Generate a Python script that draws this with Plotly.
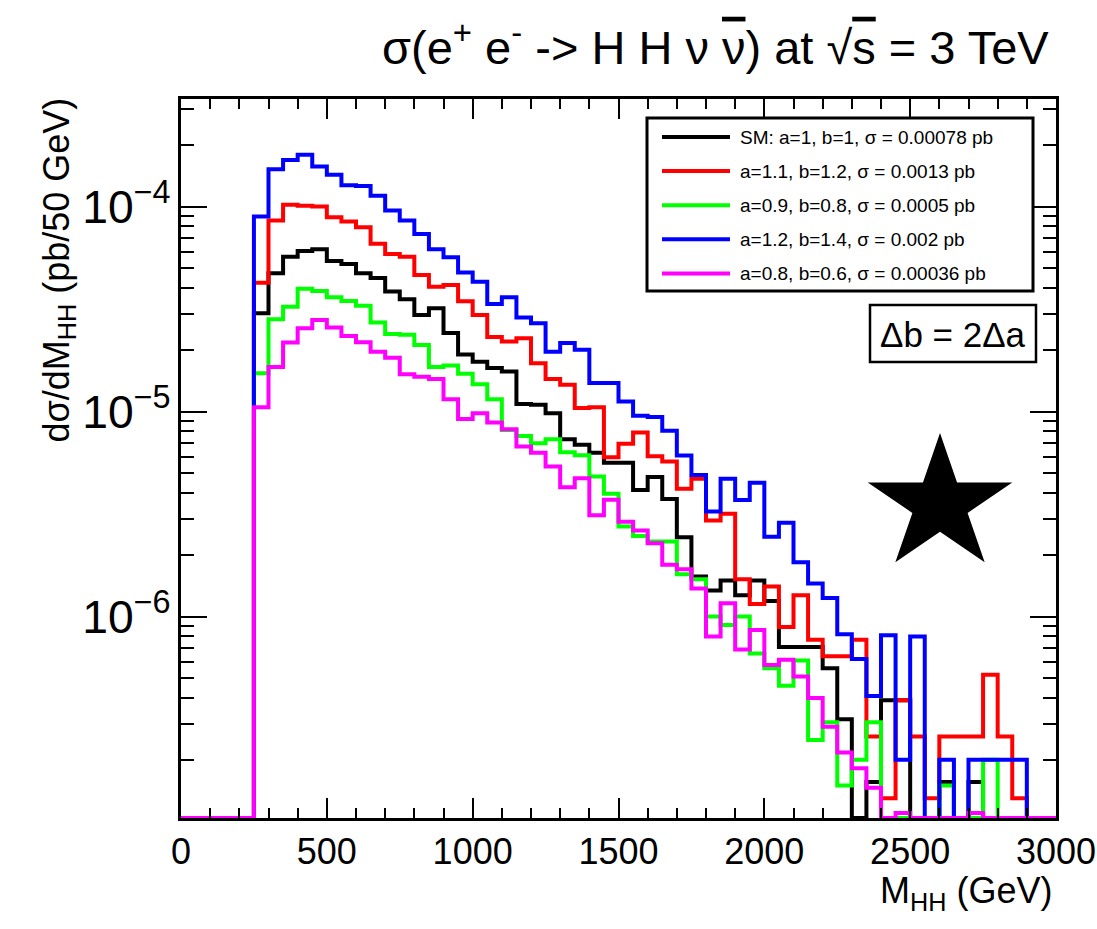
import math
import numpy as np
import plotly.graph_objects as go

# Di-Higgs invariant mass spectra, 50 GeV bins from 0 to 3000 GeV
bin_edges = list(range(0, 3001, 50))

series_names = [
    "SM: a=1, b=1, σ = 0.00078 pb",
    "a=1.1, b=1.2, σ = 0.0013 pb",
    "a=0.9, b=0.8, σ = 0.0005 pb",
    "a=1.2, b=1.4, σ = 0.002 pb",
    "a=0.8, b=0.6, σ = 0.00036 pb",
]
series_colors = ["#000000", "#ff0000", "#00ff00", "#0000ff", "#ff00ff"]

# dsigma/dM_HH in pb per bin (bins below 250 GeV are empty)
sm_a1_b1 = [
    0, 0, 0, 0, 0,
    3.02e-5, 4.73e-5, 5.70e-5, 6.08e-5, 6.20e-5, 5.43e-5, 5.25e-5, 4.73e-5, 4.48e-5, 3.85e-5,
    3.53e-5, 2.96e-5, 3.19e-5, 2.42e-5, 1.90e-5, 1.75e-5, 1.63e-5, 1.57e-5, 1.09e-5, 1.08e-5,
    9.8e-6, 7.33e-6, 6.88e-6, 6.3e-6, 5.62e-6, 5.62e-6, 4.14e-6, 4.8e-6, 3.75e-6, 2.44e-6,
    1.57e-6, 1.34e-6, 1.50e-6, 1.27e-6, 1.50e-6, 1.19e-6, 7.1e-7, 7.1e-7, 7.1e-7, 5.6e-7,
    3.15e-7, 0, 1.56e-7, 3.9e-7, 3.9e-7, 0, 0, 1.56e-7, 0, 1.56e-7,
    0, 0, 0, 0, 0,
]
a11_b12 = [
    0, 0, 0, 0, 0,
    4.25e-5, 8.55e-5, 1.02e-4, 1.01e-4, 1.00e-4, 8.88e-5, 8.45e-5, 7.94e-5, 6.58e-5, 5.88e-5,
    5.70e-5, 4.64e-5, 4.07e-5, 4.15e-5, 3.45e-5, 2.96e-5, 2.31e-5, 2.20e-5, 2.28e-5, 1.72e-5,
    1.44e-5, 1.35e-5, 1.04e-5, 1.05e-5, 5.98e-6, 6.96e-6, 7.9e-6, 6.05e-6, 5.7e-6, 4.2e-6,
    4.7e-6, 2.94e-6, 3.17e-6, 1.52e-6, 1.15e-6, 1.40e-6, 8.9e-7, 1.27e-6, 7.7e-7, 6.4e-7,
    6.4e-7, 7.7e-7, 2.6e-7, 1.3e-7, 3.9e-7, 2.6e-7, 1.3e-7, 2.6e-7, 2.6e-7, 2.6e-7,
    5.2e-7, 2.6e-7, 1.3e-7, 0, 0,
]
a09_b08 = [
    0, 0, 0, 0, 0,
    1.54e-5, 2.82e-5, 3.25e-5, 3.97e-5, 3.88e-5, 3.61e-5, 3.46e-5, 3.28e-5, 2.72e-5, 2.39e-5,
    2.37e-5, 2.11e-5, 1.65e-5, 1.68e-5, 1.53e-5, 1.36e-5, 1.15e-5, 8.14e-6, 7.61e-6, 7.0e-6,
    7.33e-6, 6.33e-6, 6.13e-6, 4.82e-6, 3.97e-6, 2.75e-6, 2.47e-6, 2.32e-6, 2.32e-6, 1.61e-6,
    1.52e-6, 1.0e-6, 9.1e-7, 1.0e-6, 6.6e-7, 5.6e-7, 4.6e-7, 6.1e-7, 2.5e-7, 3.05e-7,
    1.5e-7, 2.0e-7, 3.05e-7, 0, 0, 0, 0, 1.5e-7, 0, 0,
    2.0e-7, 0, 0, 0, 0,
]
a12_b14 = [
    0, 0, 0, 0, 0,
    8.94e-5, 1.52e-4, 1.69e-4, 1.79e-4, 1.57e-4, 1.43e-4, 1.27e-4, 1.26e-4, 1.13e-4, 9.56e-5,
    8.55e-5, 7.36e-5, 6.20e-5, 5.66e-5, 4.77e-5, 4.30e-5, 3.35e-5, 3.61e-5, 2.88e-5, 2.70e-5,
    1.96e-5, 2.16e-5, 2.00e-5, 1.38e-5, 1.38e-5, 1.12e-5, 9.53e-6, 9.4e-6, 8.07e-6, 6.1e-6,
    4.9e-6, 3.25e-6, 4.7e-6, 3.7e-6, 4.5e-6, 2.45e-6, 2.87e-6, 1.84e-6, 1.45e-6, 1.23e-6,
    8.2e-7, 6.2e-7, 4.1e-7, 8.1e-7, 2.0e-7, 8.0e-7, 0, 2.0e-7, 0, 2.0e-7,
    2.0e-7, 2.0e-7, 2.0e-7, 0, 0,
]
a08_b06 = [
    0, 0, 0, 0, 0,
    1.05e-5, 1.65e-5, 2.17e-5, 2.55e-5, 2.80e-5, 2.57e-5, 2.34e-5, 2.18e-5, 1.96e-5, 1.83e-5,
    1.52e-5, 1.48e-5, 1.44e-5, 1.15e-5, 9.2e-6, 9.8e-6, 8.84e-6, 8.2e-6, 6.75e-6, 6.3e-6,
    5.4e-6, 4.27e-6, 4.73e-6, 3.12e-6, 3.71e-6, 2.9e-6, 2.63e-6, 2.28e-6, 1.79e-6, 1.70e-6,
    1.37e-6, 8.0e-7, 1.16e-6, 6.9e-7, 8.6e-7, 5.8e-7, 6.15e-7, 5.1e-7, 4.0e-7, 2.9e-7,
    2.17e-7, 1.82e-7, 1.46e-7, 0, 1.1e-7, 0, 0, 0, 0, 1.1e-7,
    0, 0, 0, 0, 0,
]
series_values = [sm_a1_b1, a11_b12, a09_b08, a12_b14, a08_b06]

X_RANGE = [0, 3000]
Y_MIN, Y_MAX = 1.04e-7, 3.35e-4

# figure geometry (pixels)
W, H = 1097, 929
L, R, T, B = 181, 41, 99, 111
PW, PH = W - L - R, H - T - B
FONT = "Liberation Sans, Arial, Helvetica, sans-serif"


def px(xp):
    return (xp - L) / PW


def py(yp):
    return (H - B - yp) / PH


def note(text, x, y, size, xanchor="center", yanchor="middle", **kw):
    return dict(text=text, x=x, y=y, xref="paper", yref="paper", showarrow=False,
                xanchor=xanchor, yanchor=yanchor, borderpad=0,
                font=dict(family=FONT, size=size, color="black"), **kw)


fig = go.Figure()

# step histograms; empty bins sit on the axis floor like a log-scale histogram frame
for name, color, vals in zip(series_names, series_colors, series_values):
    y = [max(v, Y_MIN) for v in vals]
    y = y + [y[-1]]
    fig.add_trace(go.Scatter(
        x=bin_edges, y=y, mode="lines", name=name,
        line=dict(color=color, width=4, shape="hv"),
        showlegend=False, hoverinfo="skip",
    ))

fig.update_xaxes(
    range=X_RANGE, automargin=False,
    showline=True, linewidth=3, linecolor="black", mirror="ticks",
    ticks="inside", ticklen=20, tickwidth=2, tickcolor="black",
    tickmode="linear", tick0=0, dtick=500,
    minor=dict(ticks="inside", ticklen=10, tickwidth=2, tickcolor="black", dtick=100),
    showgrid=False, zeroline=False,
    tickfont=dict(family=FONT, size=36, color="black"),
    ticklabeloverflow="allow",
)
fig.update_yaxes(
    type="log", range=[math.log10(Y_MIN), math.log10(Y_MAX)], automargin=False,
    showline=True, linewidth=3, linecolor="black", mirror="ticks",
    ticks="inside", ticklen=26, tickwidth=2, tickcolor="black",
    tickmode="linear", tick0=0, dtick=1, exponentformat="power", showexponent="all",
    minor=dict(ticks="inside", ticklen=13, tickwidth=2, tickcolor="black", dtick="D1"),
    showgrid=False, zeroline=False,
    tickfont=dict(family=FONT, size=37, color="black"),
    ticklabelstandoff=0, ticklabeloverflow="allow",
)

annotations = [
    note("σ(e<sup>+</sup> e<sup>-</sup> -> H H ν <span style='text-decoration:overline'>ν</span>) at "
         "√<span style='text-decoration:overline'>s</span> = 3 TeV",
         px(1050), py(44), 47, xanchor="right"),
    note("M<sub>HH</sub> (GeV)", px(1053), py(893), 36, xanchor="right"),
    note("dσ/dM<sub>HH</sub> (pb/50 GeV)", px(58), py(97), 36, yanchor="top", textangle=-90),
    note("Δb = 2Δa", px(953), py(334), 35),
]

shapes = [
    # legend frame
    dict(type="rect", xref="paper", yref="paper", x0=px(647), x1=px(1033), y0=py(291), y1=py(118),
         line=dict(color="black", width=3), fillcolor="white", layer="above"),
    # coupling relation box
    dict(type="rect", xref="paper", yref="paper", x0=px(870), x1=px(1036), y0=py(362), y1=py(305),
         line=dict(color="black", width=2.5), fillcolor="white", layer="above"),
]

for i, (name, color) in enumerate(zip(series_names, series_colors)):
    yy = 137 + 34.1 * i
    shapes.append(dict(type="line", xref="paper", yref="paper", x0=px(662), x1=px(730),
                       y0=py(yy), y1=py(yy), line=dict(color=color, width=4), layer="above"))
    annotations.append(note(name, px(739), py(yy), 19, xanchor="left"))

# five-pointed star marker
cx, cy, rx, ry = 940, 504.5, 76, 71.5
inner = 0.382
pts = []
for k in range(10):
    ang = math.pi / 2 - k * math.pi / 5
    f = 1.0 if k % 2 == 0 else inner
    pts.append((px(cx + rx * f * math.cos(ang)), py(cy - ry * f * math.sin(ang))))
star_path = "M " + " L ".join(f"{a:.5f},{b:.5f}" for a, b in pts) + " Z"
shapes.append(dict(type="path", xref="paper", yref="paper", path=star_path,
                   fillcolor="black", line=dict(color="black", width=0), layer="above"))

fig.update_layout(
    width=W, height=H, autosize=False,
    margin=dict(l=L, r=R, t=T, b=B, pad=0, autoexpand=False),
    paper_bgcolor="white", plot_bgcolor="white",
    font=dict(family=FONT, color="black"),
    showlegend=False,
    annotations=annotations, shapes=shapes,
)

fig.write_html("out.html")
